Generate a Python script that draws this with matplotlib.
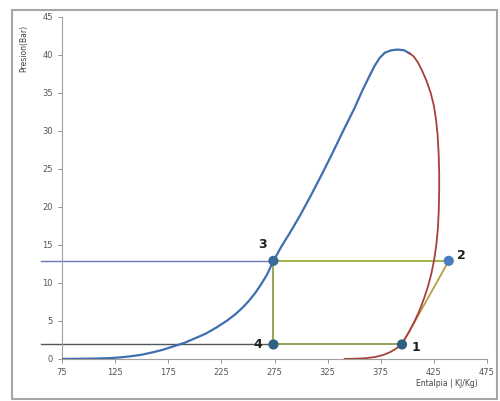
import matplotlib.pyplot as plt
from matplotlib.patches import Rectangle

# saturation dome, liquid side (blue) up to the critical point
liq_h = [75, 90, 105, 120, 130, 140, 150, 160, 170, 180, 190, 200, 210, 220, 230, 238, 245, 251, 257, 263, 268,
         274, 282, 290, 300, 310, 320, 330, 340, 350, 358, 364, 369, 374, 379, 385, 391, 397, 402]
liq_p = [0.0, 0.01, 0.04, 0.1, 0.2, 0.35, 0.55, 0.85, 1.2, 1.65, 2.1, 2.7, 3.3, 4.1, 5.0, 5.85, 6.75, 7.65, 8.7, 9.95, 11.1,
         12.9, 14.9, 16.7, 19.1, 21.7, 24.4, 27.2, 30.1, 32.9, 35.4, 37.1, 38.5, 39.6, 40.3, 40.6, 40.7, 40.6, 40.2]

# vapour side (red) from the critical point down
vap_h = [402, 406, 410, 414, 418, 422, 425, 427, 428.5, 429.5, 430, 430, 429.6, 428.8, 427.3, 425.2, 422.6,
         419.4, 415.6, 411.3, 406.6, 401.8, 397.5, 395, 390, 384, 378, 370, 360, 350, 341]
vap_p = [40.2, 39.8, 39.0, 37.9, 36.6, 35.0, 33.3, 31.5, 29.5, 27.0, 24.5, 22.0, 19.5, 17.2, 15.0, 13.0, 11.2,
         9.5, 7.9, 6.3, 4.9, 3.6, 2.6, 2.0, 1.4, 0.9, 0.55, 0.25, 0.08, 0.02, 0.0]

# refrigeration cycle points 1..4
pt_names = ['1', '2', '3', '4']
pt_h = [395, 439, 274, 274]
pt_p = [1.9, 12.9, 12.9, 1.9]

x_ticks = [75, 125, 175, 225, 275, 325, 375, 425, 475]
y_ticks = [0, 5, 10, 15, 20, 25, 30, 35, 40, 45]

fig = plt.figure(figsize=(5, 4.01), dpi=100)
ax = fig.add_axes([0.124, 0.105, 0.85, 0.853])

# chart frame
fig.patches.append(Rectangle((12 / 500, 2 / 401), 485 / 500, 389 / 401, transform=fig.transFigure,
                             fill=False, edgecolor='#a6a6a6', linewidth=1.5))

ax.plot(liq_h, liq_p, color='#3f6fae', linewidth=1.6, zorder=3, solid_joinstyle='round')
ax.plot(vap_h, vap_p, color='#a8403c', linewidth=1.3, zorder=3, solid_joinstyle='round')

# reference lines from the pressure axis
ax.plot([55, pt_h[2]], [pt_p[2], pt_p[2]], color='#6878b8', linewidth=1.0, clip_on=False, zorder=2)
ax.plot([55, pt_h[3]], [pt_p[3], pt_p[3]], color='#505860', linewidth=1.0, clip_on=False, zorder=2)

# cycle
ax.plot([pt_h[2], pt_h[1]], [pt_p[2], pt_p[1]], color='#9aae3c', linewidth=1.3, zorder=2)
ax.plot([pt_h[2], pt_h[3]], [pt_p[2], pt_p[3]], color='#8fa040', linewidth=1.3, zorder=2)
ax.plot([pt_h[3], pt_h[0]], [pt_p[3], pt_p[0]], color='#8a9a50', linewidth=1.3, zorder=2)
ax.plot([pt_h[0], pt_h[1]], [pt_p[0], pt_p[1]], color='#b8a040', linewidth=1.3, zorder=2)

ax.scatter(pt_h, pt_p, s=40, color=['#2e6080', '#4a7cc0', '#3a6a9c', '#2e6080'], zorder=5)

offsets = [(10, -2), (9, 4), (-8, 12), (-11, 0)]
for name, h, p, off in zip(pt_names, pt_h, pt_p, offsets):
    ax.annotate(name, (h, p), xytext=off, textcoords='offset points', fontsize=9,
                fontweight='bold', color='#202020', ha='center', va='center')

ax.set_xlim(75, 475)
ax.set_ylim(0, 45)
ax.set_xticks(x_ticks)
ax.set_yticks(y_ticks)
ax.tick_params(labelsize=6, colors='#808080', length=3, width=0.6, labelcolor='#555555')

for side in ['top', 'right']:
    ax.spines[side].set_visible(False)
for side in ['left', 'bottom']:
    ax.spines[side].set_color('#a0a0a0')
    ax.spines[side].set_linewidth(0.8)

fig.text(24 / 500, 1 - 48 / 401, 'Presion(Bar)', rotation=90, fontsize=5.5, color='#404040',
         ha='center', va='center')
fig.text(447 / 500, 1 - 383 / 401, 'Entalpia | KJ/Kg)', fontsize=5.5, color='#404040',
         ha='center', va='center')

fig.savefig('out.png', dpi=100)
